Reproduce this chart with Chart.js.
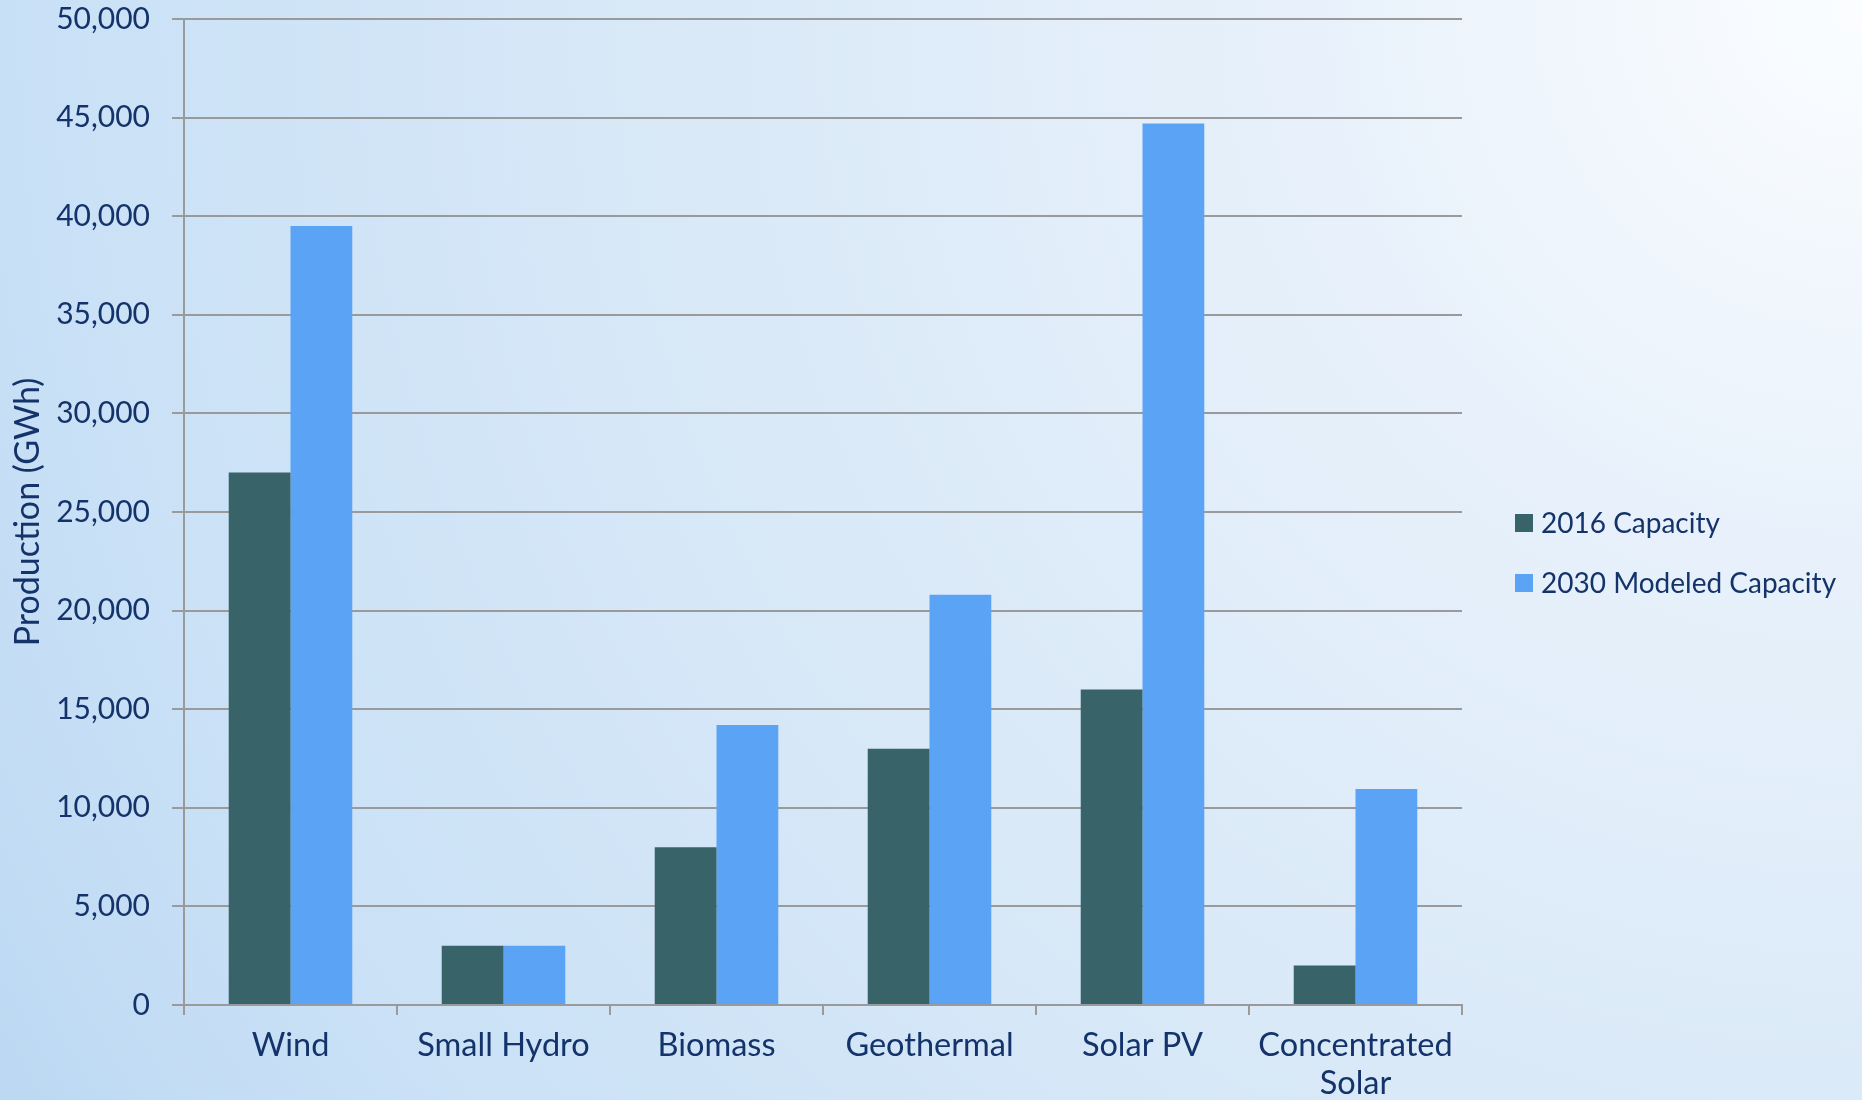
<!DOCTYPE html>
<html>
<head>
<meta charset="utf-8">
<script src="https://cdn.jsdelivr.net/npm/chart.js@4.4.1/dist/chart.umd.min.js"></script>
<style>
  html, body { margin: 0; padding: 0; }
  body {
    width: 1862px; height: 1100px; overflow: hidden;
    background: radial-gradient(circle 2163px at 100% 0%, #fbfdff 0px, #e8f1fb 550px, #dbeaf8 1100px, #c8e0f6 1862px, #bcd8f2 2163px);
  }
  #wrap { width: 1862px; height: 1100px; position: relative; }
</style>
</head>
<body>
<div id="wrap"><canvas id="renewChart" width="1862" height="1100"></canvas></div>
<script>
const categories = ['Wind', 'Small Hydro', 'Biomass', 'Geothermal', 'Solar PV', ['Concentrated', 'Solar']];
const capacity2016 = [27000, 3000, 8000, 13000, 16000, 2000];
const capacity2030 = [39500, 3000, 14200, 20800, 44700, 10950];
const seriesNames = ['2016 Capacity', '2030 Modeled Capacity'];

const textColor = '#14336a';
const gridColor = '#9a9a9a';
const fontFamily = 'Lato, "Noto Sans", sans-serif';

// legend drawn by hand so it sits where the original one is
const sideLegend = {
    id: 'sideLegend',
    afterDraw(chart) {
        const ctx = chart.ctx;
        ctx.save();
        ctx.font = '28px ' + fontFamily;
        ctx.textBaseline = 'middle';
        chart.data.datasets.forEach((ds, i) => {
            const y = 523 + i * 60;
            ctx.fillStyle = ds.backgroundColor;
            ctx.fillRect(1515, y - 9, 18, 18);
            ctx.fillStyle = textColor;
            ctx.fillText(ds.label, 1541, y + 1);
        });
        ctx.restore();
    }
};

const ctx = document.getElementById('renewChart').getContext('2d');

const chart = new Chart(ctx, {
    type: 'bar',
    data: {
        labels: categories,
        datasets: [
            {
                label: seriesNames[0],
                data: capacity2016,
                backgroundColor: '#376369',
                categoryPercentage: 0.58,
                barPercentage: 1.0
            },
            {
                label: seriesNames[1],
                data: capacity2030,
                backgroundColor: '#5ba3f5',
                categoryPercentage: 0.58,
                barPercentage: 1.0
            }
        ]
    },
    options: {
        responsive: false,
        animation: false,
        layout: {
            padding: { top: 19, right: 400, bottom: 0, left: 0 }
        },
        plugins: {
            legend: { display: false },
            tooltip: { enabled: false }
        },
        scales: {
            x: {
                grid: {
                    offset: true,
                    drawOnChartArea: false,
                    drawTicks: true,
                    tickLength: 10,
                    color: gridColor,
                    lineWidth: 2
                },
                border: { display: true, color: gridColor, width: 2 },
                ticks: {
                    color: textColor,
                    font: { family: fontFamily, size: 32.5, lineHeight: 1.15 },
                    padding: 12,
                    maxRotation: 0,
                    autoSkip: false
                },
                afterFit: scale => { scale.height = 95; }
            },
            y: {
                min: 0,
                max: 50000,
                ticks: {
                    stepSize: 5000,
                    color: textColor,
                    font: { family: fontFamily, size: 30 },
                    padding: 22,
                    callback: value => value.toLocaleString('en-US')
                },
                grid: {
                    color: gridColor,
                    lineWidth: 2,
                    tickLength: 12
                },
                border: { display: true, color: gridColor, width: 2 },
                title: {
                    display: true,
                    text: 'Production (GWh)',
                    color: textColor,
                    font: { family: fontFamily, size: 34 },
                    padding: { top: 8, bottom: 0 }
                },
                afterFit: scale => {
                    scale.width = 184;
                    // ticks.padding otherwise pushes the plot top down
                    scale.paddingTop = 0;
                    scale.paddingBottom = 0;
                }
            }
        }
    },
    plugins: [sideLegend]
});
</script>
</body>
</html>
